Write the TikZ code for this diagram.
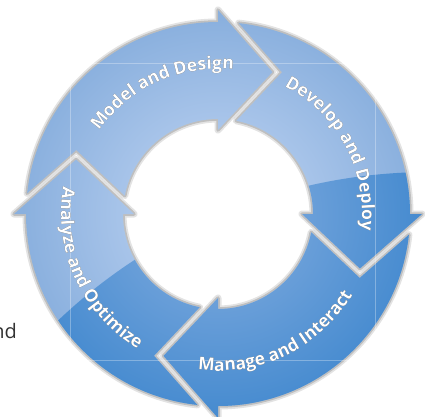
\documentclass[tikz,border=0pt]{standalone}
\usepackage{fontspec}
\setmainfont{Open Sans}
\usetikzlibrary{decorations.text}

\definecolor{ringlightin}{HTML}{A9C5EA}
\definecolor{ringlightout}{HTML}{8AB0DE}
\definecolor{ringdarkin}{HTML}{6A9FD9}
\definecolor{ringdarkout}{HTML}{488CD0}
\definecolor{fragtext}{HTML}{333333}

\pgfdeclareradialshading{lightring}{\pgfpoint{0bp}{0bp}}{color(0bp)=(ringlightin); color(11bp)=(ringlightin); color(24bp)=(ringlightout); color(50bp)=(ringlightout)}
\pgfdeclareradialshading{darkring}{\pgfpoint{0bp}{0bp}}{color(0bp)=(ringdarkin); color(11bp)=(ringdarkin); color(24bp)=(ringdarkout); color(50bp)=(ringdarkout)}

\newcommand{\cyclefont}{\bfseries\fontsize{17.5}{17.5}\selectfont}
% one arrow of the cycle, head base at angle #1
\newcommand{\cyclearrow}[1]{(#1+83.8:192) arc[start angle=#1+83.8, end angle=#1, radius=192] -- (#1:204) -- (#1-21:152) -- (#1:84) -- (#1:95) arc[start angle=#1, end angle=#1+78.9, radius=95] -- (#1+65.7:155.5) -- cycle}

\begin{document}
\begin{tikzpicture}[x=1pt, y=1pt]
    \tikzset{looptext/.style={decorate, decoration={text along path, text align=center, text color=white, text={|\cyclefont|#1}}},
             loopshadow/.style={decorate, opacity=0.3, transform canvas={shift={(0.8pt,-0.8pt)}}, decoration={text along path, text align=center, text color=black!80, text={|\cyclefont|#1}}}}
    \useasboundingbox (-218,-202) rectangle (207,214);

    % Gray gaps and soft shadows
    \foreach \b in {90,0,-90,180}{
      \draw[black, opacity=0.11, line width=7, line join=round] \cyclearrow{\b};
      \draw[black, opacity=0.16, line width=3.5, line join=round] \cyclearrow{\b};
    }

    % Ring fill: light over the top, darker to the lower right
    \begin{scope}
      \clip \cyclearrow{90} \cyclearrow{0} \cyclearrow{-90} \cyclearrow{180};
      \shade[shading=lightring] (0,0) circle[radius=204];
      \clip (212,-498) circle[radius=540];
      \shade[shading=darkring] (0,0) circle[radius=204];
    \end{scope}
    \draw[white, opacity=0.3, line width=0.6] (-148,151) rectangle (157,-146);

    % Labels along the ring
    \path[loopshadow={Model and Design}] (165:145) arc[start angle=165, end angle=64, radius=145];
    \path[looptext={Model and Design}] (165:145) arc[start angle=165, end angle=64, radius=145];
    \path[loopshadow={Develop and Deploy}] (80:144) arc[start angle=80, end angle=-24, radius=144];
    \path[looptext={Develop and Deploy}] (80:144) arc[start angle=80, end angle=-24, radius=144];
    \path[loopshadow={Manage and Interact}] (245:157) arc[start angle=245, end angle=346.6, radius=157];
    \path[looptext={Manage and Interact}] (245:157) arc[start angle=245, end angle=346.6, radius=157];
    \path[loopshadow={Analyze and Optimize}] (155:157) arc[start angle=155, end angle=254.4, radius=157];
    \path[looptext={Analyze and Optimize}] (155:157) arc[start angle=155, end angle=254.4, radius=157];

    \node[anchor=base east, inner sep=0pt, text=fragtext, font=\fontsize{20}{20}\selectfont] (andfrag) at (-201,-124) {nd};
\end{tikzpicture}
\end{document}
